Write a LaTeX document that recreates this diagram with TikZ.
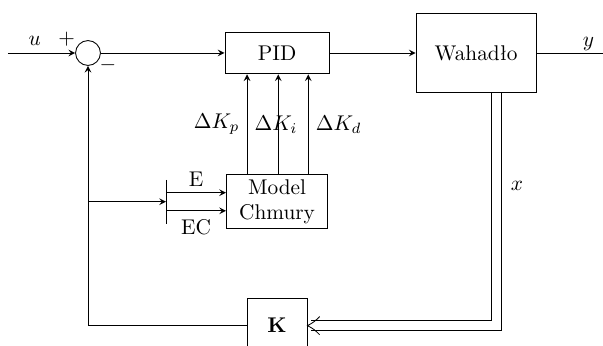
\documentclass[tikz,border=0pt]{standalone}
\usepackage{amsmath}
\usetikzlibrary{arrows, positioning, calc}

\begin{document}
\begin{tikzpicture}[
  x=0.165mm, y=-0.165mm,
  node distance=1cm,
  block/.style={rectangle, draw=black, inner sep=0pt, align=center, fill=white},
  sumnode/.style={circle, draw=black, inner sep=0pt, minimum size=4.1mm},
  arrow/.style={->, >=stealth}
]
\useasboundingbox (0,0) rectangle (603,345);

% Summing junction
\node[sumnode] (sum) at (88,53) {};
\coordinate[left=11.1mm of sum] (in);

% Controller
\node[block, right=20.4mm of sum, minimum width=17.2mm, minimum height=6.9mm] (pid) {PID};

% Plant
\node[block, right=14.2mm of pid, minimum width=19.8mm, minimum height=12.9mm] (wah) {Wahadło};
\coordinate[right=11.4mm of wah] (out);

% Cloud model
\node[block, below=16.5mm of pid, minimum width=16.7mm, minimum height=8.9mm] (model) {Model\\Chmury};
\coordinate[left=9.9mm of model] (bar);

% State feedback gain
\node[block, below=11.4mm of model, minimum width=9.9mm, minimum height=8.9mm] (kgain) {$\mathbf{K}$};

% Edges
\draw[arrow] (in) -- node[pos=0.4, above] {$u$} (sum);
\node at ([shift={(-1.4mm,2.3mm)}]sum.west) {$+$};
\node at ([shift={(3.3mm,-2mm)}]sum.center) {$-$};
\draw[arrow] (sum) -- (pid);
\draw[arrow] (pid) -- (wah);
\draw (wah) -- node[pos=0.75, above, inner sep=1pt] {$y$} (out);

\draw[arrow] ([xshift=-4.95mm]model.north) -- ([xshift=-4.95mm]pid.south)
  node[midway, left] {$\Delta K_p$} node[midway, right] {$\Delta K_i$};
\draw[arrow] ([xshift=0.2mm]model.north) -- ([xshift=0.2mm]pid.south);
\draw[arrow] ([xshift=5.15mm]model.north) -- ([xshift=5.15mm]pid.south)
  node[midway, right] {$\Delta K_d$};

\draw ([yshift=3.6mm]bar) -- ([yshift=-3.6mm]bar);
\draw[arrow] ([yshift=1.5mm]bar) -- node[above=1mm, inner sep=0pt] {E} ([yshift=1.5mm]model.west);
\draw[arrow] ([yshift=-1.5mm]bar) -- node[below=1.3mm, inner sep=0pt] {EC} ([yshift=-1.5mm]model.west);

\draw[arrow] (kgain.west) -| (sum.south);
\coordinate (br) at (sum.south |- bar);
\draw[arrow] (br) -- (bar);

% State vector (double line)
\coordinate (xcol) at ([xshift=3.3mm]wah.south);
\draw ([xshift=-0.8mm]xcol) |- ([shift={(0.6mm,0.8mm)}]kgain.east);
\draw ([xshift=0.8mm]xcol) |- ([shift={(0.6mm,-0.8mm)}]kgain.east);
\draw ([shift={(2mm,1.5mm)}]kgain.east) to[bend left=10] (kgain.east) to[bend left=10] ([shift={(2mm,-1.5mm)}]kgain.east);
\node[right=1.2mm] at ($(xcol)!0.4!(xcol |- kgain.east)$) {$x$};
\end{tikzpicture}
\end{document}
